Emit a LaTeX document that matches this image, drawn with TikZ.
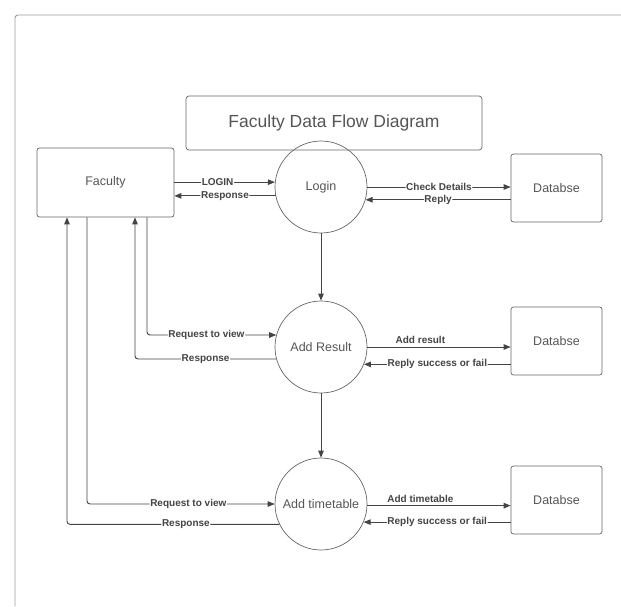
\documentclass[tikz,border=0pt]{standalone}
\usepackage{fontspec}
\setmainfont{Liberation Sans}
\usetikzlibrary{arrows.meta,positioning}
\definecolor{colorln}{HTML}{444444}
\definecolor{colortx}{HTML}{555555}
\definecolor{colorbd}{HTML}{666666}
\definecolor{colorfr}{HTML}{9A9A9A}
\tikzset{entity/.style={draw=colorbd, rounded corners=2.5pt, line width=0.7pt, text=colortx, minimum width=91pt, minimum height=68pt, font=\fontsize{12.5}{15}\selectfont}}
\tikzset{proc/.style={circle, draw=colorbd, line width=0.7pt, text=colortx, minimum size=92pt, inner sep=0pt, font=\fontsize{12.5}{15}\selectfont}}
\tikzset{ttl/.style={draw=colorbd, rounded corners=3pt, line width=0.7pt, text=colortx, minimum width=296pt, minimum height=54pt, font=\fontsize{17.5}{22}\selectfont}}
\tikzset{
  edgeflow/.style={colorln, line width=0.95pt, -{Triangle[length=7pt,width=5.5pt]}, rounded corners=3pt},
  lbl/.style={fill=white, inner sep=0.6pt, text=colorln, font=\bfseries\fontsize{10}{12}\selectfont},
  lbltop/.style={inner sep=0.6pt, text=colorln, font=\bfseries\fontsize{10}{12}\selectfont}
}

\begin{document}
\begin{tikzpicture}[x=1pt,y=-1pt]
\useasboundingbox (0,0) rectangle (621,606);
\draw[colorfr, line width=0.9pt, rounded corners=3pt] (15,606) -- (15,15) -- (621,15);

\node[ttl] (title) at (334,123) {Faculty Data Flow Diagram};

\node[entity, minimum width=137pt, minimum height=69pt] (fac) at (105.5,182.5) {Faculty};

\node[proc] (lgn) at (321,187) {Login};
\node[proc] (res) at (321,347) {Add Result};
\node[proc] (tt) at (321,504) {Add timetable};

\node[entity] (dbA) at (556.5,188) {Databse};
\node[entity] (dbB) at (556.5,341) {Databse};
\node[entity] (dbC) at (556.5,500) {Databse};

% faculty <-> login
\draw[edgeflow] (fac.east |- lgn.174) to node[lbl,pos=0.43]{LOGIN} (lgn.174);
\draw[edgeflow] (lgn.191) to node[lbl]{Response} (lgn.191 -| fac.east);

% login <-> database
\draw[edgeflow] (lgn.east) to node[lbl]{Check Details} (lgn.east -| dbA.west);
\draw[edgeflow] (dbA.west |- lgn.-16) to node[lbl]{Reply} (lgn.-16);

\draw[edgeflow] (lgn.south) to (res.north);

% faculty <-> add result
\draw[edgeflow] ([xshift=41.5pt]fac.south) |- node[lbl,pos=0.73]{Request to view} (res.165);
\draw[edgeflow] (res.195) -| node[lbl,pos=0.25]{Response} ([xshift=29.5pt]fac.south);

\draw[edgeflow] (res.east) to node[lbltop,above=2pt,pos=0.37]{Add result} (res.east -| dbB.west);
\draw[edgeflow] (dbB.west |- res.-22) to node[lbl]{Reply success or fail} (res.-22);

\draw[edgeflow] (res.south) to (tt.north);

% faculty <-> add timetable
\draw[edgeflow] ([xshift=-18.5pt]fac.south) |- node[lbl,pos=0.77]{Request to view} (tt.west);
\draw[edgeflow] (tt.206) -| node[lbl,pos=0.22]{Response} ([xshift=-38.5pt]fac.south);

\draw[edgeflow] (tt.-2) to node[lbltop,above=2pt,pos=0.37]{Add timetable} (tt.-2 -| dbC.west);
\draw[edgeflow] (dbC.west |- tt.-23) to node[lbl]{Reply success or fail} (tt.-23);
\end{tikzpicture}
\end{document}
